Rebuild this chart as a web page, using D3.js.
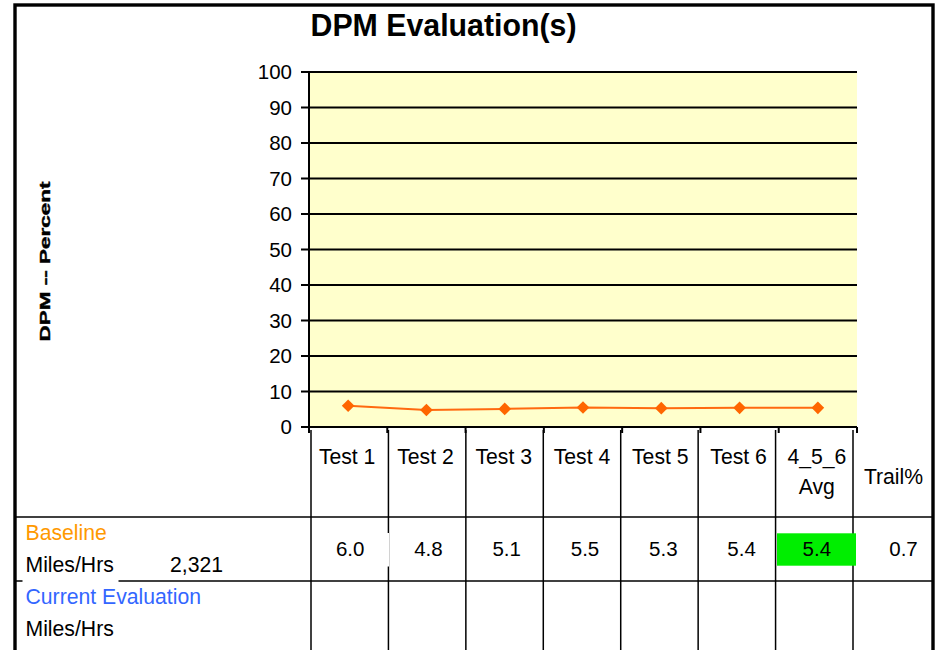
<!DOCTYPE html>
<html>
<head>
<meta charset="utf-8">
<script src="https://cdn.jsdelivr.net/npm/d3@7"></script>
<style>
  html, body { margin: 0; padding: 0; background: #fff; }
  svg { display: block; font-family: "Liberation Sans", Arial, sans-serif; }
</style>
</head>
<body>
<svg id="chart" width="935" height="650"></svg>
<script>
// ---- data ----
const chartTitle = "DPM Evaluation(s)";
const yAxisTitle = "DPM -- Percent";
const categories = ["Test 1", "Test 2", "Test 3", "Test 4", "Test 5", "Test 6", "4_5_6 Avg"];
const categoryLabels = [["Test 1"], ["Test 2"], ["Test 3"], ["Test 4"], ["Test 5"], ["Test 6"], ["4_5_6", "Avg"]];
const baselineValues = [6.0, 4.8, 5.1, 5.5, 5.3, 5.4, 5.4];
const yTicks = [0, 10, 20, 30, 40, 50, 60, 70, 80, 90, 100];
const trailLabel = "Trail%";
const trailValue = 0.7;
const baselineMiles = "2,321";
const rowLabels = ["Baseline", "Miles/Hrs", "Current Evaluation", "Miles/Hrs"];

// ---- layout ----
const svg = d3.select("#chart");
const plotL = 309, plotR = 857, plotT = 72, plotB = 427;
const x = d3.scaleBand().domain(categories).range([plotL, plotR]);
const y = d3.scaleLinear().domain([0, 100]).range([plotB, plotT]);
const xt = d3.scaleBand().domain(categories).range([311, 853]); // table columns
const trailR = 933;
const row1T = 517, row2T = 581;
const fs = 20.5, fsT = 21.2;

// outer frame
svg.append("rect").attr("x", 15).attr("y", 5).attr("width", 918).attr("height", 700)
  .attr("fill", "#fff").attr("stroke", "#000").attr("stroke-width", 3.4);

// title
svg.append("text").attr("x", 443.5).attr("y", 35.5).attr("text-anchor", "middle")
  .attr("font-size", 31).attr("font-weight", "bold")
  .attr("textLength", 266).attr("lengthAdjust", "spacingAndGlyphs")
  .text(chartTitle);

// y axis title
svg.append("text")
  .attr("transform", "translate(49.5,261.5) rotate(-90)")
  .attr("text-anchor", "middle").attr("font-size", 14.5).attr("font-weight", "bold")
  .attr("stroke", "#000").attr("stroke-width", 0.4)
  .attr("textLength", 160).attr("lengthAdjust", "spacingAndGlyphs")
  .text(yAxisTitle);

// plot background
svg.append("rect").attr("x", plotL).attr("y", plotT).attr("width", plotR - plotL)
  .attr("height", plotB - plotT).attr("fill", "#FFFFCC");

// gridlines + tick labels
const grid = svg.append("g");
grid.selectAll("line").data(yTicks).join("line")
  .attr("x1", plotL - 8).attr("x2", plotR)
  .attr("y1", d => y(d)).attr("y2", d => y(d))
  .attr("stroke", "#000").attr("stroke-width", 1.8);
grid.selectAll("text").data(yTicks).join("text")
  .attr("x", 292).attr("y", d => y(d)).attr("dy", "0.36em")
  .attr("text-anchor", "end").attr("font-size", fs)
  .text(d => d);

// y axis line
svg.append("line").attr("x1", plotL).attr("x2", plotL).attr("y1", plotT).attr("y2", plotB)
  .attr("stroke", "#000").attr("stroke-width", 2);
// x axis line + ticks at band boundaries
svg.append("line").attr("x1", plotL).attr("x2", plotR).attr("y1", plotB).attr("y2", plotB)
  .attr("stroke", "#000").attr("stroke-width", 2);
const bounds = categories.map(c => x(c)).concat([x(categories[categories.length - 1]) + x.bandwidth()]);
svg.append("g").selectAll("line").data(bounds).join("line")
  .attr("x1", d => d).attr("x2", d => d).attr("y1", plotB).attr("y2", plotB + 6)
  .attr("stroke", "#000").attr("stroke-width", 2);

// series line
const line = d3.line().x((d, i) => x(categories[i]) + x.bandwidth() / 2).y(d => y(d));
svg.append("path").datum(baselineValues).attr("d", line)
  .attr("fill", "none").attr("stroke", "#FF6A10").attr("stroke-width", 2);
svg.append("g").selectAll("path").data(baselineValues).join("path")
  .attr("d", d3.symbol().type(d3.symbolSquare).size(80))
  .attr("transform", (d, i) => `translate(${x(categories[i]) + x.bandwidth() / 2},${y(d)}) rotate(45)`)
  .attr("fill", "#FF6600");

// ---- table ----
const tbl = svg.append("g");
// horizontal rules
[row1T, row2T].forEach(yy => {
  tbl.append("line").attr("x1", 16).attr("x2", trailR - 1).attr("y1", yy).attr("y2", yy)
    .attr("stroke", "#000").attr("stroke-width", 1.5);
});
// vertical rules
const tbounds = categories.map(c => xt(c)).concat([xt(categories[categories.length - 1]) + xt.bandwidth()]);
tbl.selectAll("line.v").data(tbounds).join("line").attr("class", "v")
  .attr("x1", d => d).attr("x2", d => d).attr("y1", 430).attr("y2", 650)
  .attr("stroke", "#000").attr("stroke-width", 1.5);

// header labels
categoryLabels.forEach((lines, i) => {
  const cx = x(categories[i]) + x.bandwidth() / 2 - 1;
  lines.forEach((t, j) => {
    tbl.append("text").attr("x", cx).attr("y", 463.5 + j * 30.5)
      .attr("text-anchor", "middle").attr("font-size", fsT).text(t);
  });
});
tbl.append("text").attr("x", 893.5).attr("y", 484).attr("text-anchor", "middle")
  .attr("font-size", fsT).text(trailLabel);

// white box of first value cell (breaks the rule)
tbl.append("rect").attr("x", 330).attr("y", 533).attr("width", 59).attr("height", 33.5).attr("fill", "#fff");
// highlighted avg cell
const lastIdx = categories.length - 1;
tbl.append("rect").attr("x", 777).attr("y", 533.3).attr("width", 79).attr("height", 32.4).attr("fill", "#00EE00");

// values
tbl.selectAll("text.val").data(baselineValues).join("text").attr("class", "val")
  .attr("x", (d, i) => x(categories[i]) + x.bandwidth() / 2 + (i === lastIdx ? -1 : 2))
  .attr("y", 556).attr("text-anchor", "middle").attr("font-size", fs)
  .text(d => d3.format(".1f")(d));
tbl.append("text").attr("x", 903.5).attr("y", 556).attr("text-anchor", "middle")
  .attr("font-size", fs).text(d3.format(".1f")(trailValue));

// row labels
tbl.append("rect").attr("x", 22.5).attr("y", 575).attr("width", 96).attr("height", 8).attr("fill", "#fff");
const rowY = [540, 572, 604, 636];
const rowColors = ["#FF9900", "#000", "#3366FF", "#000"];
rowLabels.forEach((t, i) => {
  tbl.append("text").attr("x", 25.5).attr("y", rowY[i]).attr("font-size", fsT)
    .attr("fill", rowColors[i]).text(t);
});
tbl.append("text").attr("x", 170).attr("y", 572).attr("font-size", fsT).text(baselineMiles);
</script>
</body>
</html>
